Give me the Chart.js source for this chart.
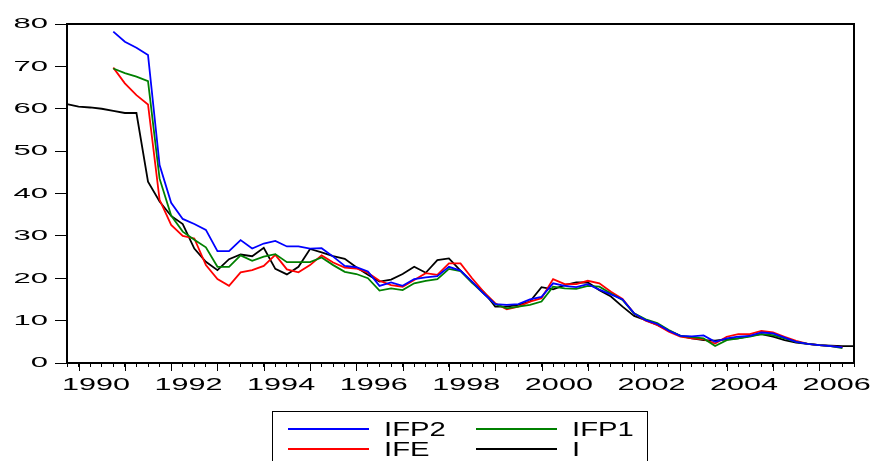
<!DOCTYPE html>
<html>
<head>
<meta charset="utf-8">
<title>IFP2 IFP1 IFE I</title>
<script src="https://cdn.jsdelivr.net/npm/chart.js@4.4.1/dist/chart.umd.min.js"></script>
<style>
  html, body { margin: 0; padding: 0; background: #fff; overflow: hidden; }
  #wrap { position: relative; width: 875px; height: 461px; }
  #legend { position: absolute; left: 272px; top: 411px; width: 376px; height: 70px;
            border: 1px solid #000; box-sizing: border-box;
            font-family: "Liberation Sans", Arial, sans-serif; font-size: 19.5px; color: #000; }
  .item { position: absolute; height: 20px; width: 170px; }
  .swatch { position: absolute; left: 0; top: 9px; width: 81px; height: 2px; }
  .lbl { position: absolute; left: 96px; top: 0; line-height: 20px; white-space: nowrap;
         transform: scaleX(1.5); transform-origin: left center; }
</style>
</head>
<body>
<div id="wrap">
  <canvas id="canvas" width="875" height="461"></canvas>
  <div id="legend"></div>
</div>
<script>
// quarterly observations 1989Q4 .. 2006Q4
var firstYear = 1989, firstQuarter = 4, lastYear = 2006;
var yearTicks = ['1990', '1992', '1994', '1996', '1998', '2000', '2002', '2004', '2006'];

var quarters = [];
for (var y = firstYear; y <= lastYear; y++) {
  for (var q = 1; q <= 4; q++) {
    if (y === firstYear && q < firstQuarter) continue;
    quarters.push(y + 'Q' + q);
  }
}

var ifp2 = [null, null, null, null,
  78.2, 75.8, 74.4, 72.7, 46.7, 37.8, 34.0, 32.8, 31.4, 26.4, 26.4, 29.0, 27.0, 28.2, 28.8, 27.5,
  27.5, 27.0, 27.1, 25.1, 22.9, 22.6, 21.6, 18.2, 19.0, 18.2, 19.8, 20.2, 20.5, 22.7, 21.8, 19.2,
  16.4, 13.9, 13.7, 13.9, 15.0, 15.6, 18.8, 18.2, 17.9, 18.6, 17.3, 16.2, 15.0, 11.7, 10.1, 9.2,
  7.6, 6.4, 6.3, 6.5, 5.0, 5.8, 6.2, 6.4, 7.2, 7.0, 6.0, 5.0, 4.5, 4.2, 4.0, 3.7, null];

var ifp1 = [null, null, null, null,
  69.5, 68.4, 67.6, 66.5, 43.5, 34.8, 31.0, 29.1, 27.3, 22.7, 22.7, 25.4, 24.1, 25.1, 25.7, 23.8,
  23.8, 23.8, 24.9, 23.1, 21.5, 21.0, 20.0, 17.1, 17.6, 17.2, 18.8, 19.4, 19.8, 22.2, 21.7, 19.0,
  16.4, 13.9, 12.9, 13.3, 13.7, 14.5, 18.0, 17.6, 17.5, 18.2, 18.0, 16.4, 14.9, 11.7, 10.3, 9.4,
  7.8, 6.4, 6.1, 5.8, 4.0, 5.4, 5.8, 6.2, 6.8, 6.6, 5.8, 5.0, 4.5, 4.2, 4.0, 3.5, null];

var ife = [null, null, null, null,
  69.7, 66.0, 63.2, 61.0, 38.5, 32.6, 30.0, 29.4, 23.1, 19.8, 18.2, 21.4, 21.9, 22.9, 25.5, 22.1,
  21.4, 23.1, 25.4, 23.7, 22.5, 22.3, 21.3, 19.4, 18.4, 18.0, 19.6, 21.2, 20.8, 23.5, 23.5, 20.0,
  16.8, 14.1, 12.7, 13.3, 14.5, 15.3, 19.8, 18.6, 18.6, 19.4, 18.8, 16.8, 15.1, 11.7, 10.0, 9.0,
  7.4, 6.2, 5.8, 5.6, 4.6, 6.2, 6.8, 6.8, 7.6, 7.2, 6.2, 5.2, 4.5, 4.2, 4.0, 3.7, null];

var iRate = [61.1, 60.5, 60.3, 60.0,
  59.5, 59.0, 59.0, 42.8, 38.1, 34.7, 32.8, 27.0, 23.9, 21.9, 24.5, 25.6, 25.2, 27.2, 22.2, 20.9,
  22.7, 26.9, 26.1, 25.2, 24.6, 22.6, 20.8, 19.2, 19.7, 21.0, 22.7, 21.3, 24.3, 24.7, 21.8, 19.0,
  16.8, 13.3, 13.3, 13.7, 14.5, 17.9, 17.4, 18.4, 19.0, 19.0, 17.2, 15.7, 13.3, 11.1, 10.1, 9.0,
  7.6, 6.4, 5.8, 5.4, 5.3, 5.6, 5.8, 6.4, 6.8, 6.2, 5.4, 4.8, 4.5, 4.2, 4.1, 4.0, 4.0];

var seriesNames = ['IFP2', 'IFP1', 'IFE', 'I'];
var seriesColors = ['#0000ff', '#008000', '#ff0000', '#000000'];
var seriesData = [ifp2, ifp1, ife, iRate];

function $id(id) { return document.getElementById(id); }

// legend as html, two columns like the original
function buildLegend() {
  var pos = [[15, 7], [203, 7], [15, 27], [203, 27]];
  var html = '';
  for (var i = 0; i < seriesNames.length; i++) {
    html += '<div class="item" style="left:' + pos[i][0] + 'px;top:' + pos[i][1] + 'px">' +
      '<div class="swatch" style="background-color:' + seriesColors[i] + '"></div>' +
      '<span class="lbl">' + seriesNames[i] + '</span></div>';
  }
  $id('legend').innerHTML = html;
}

// the original uses a wide, flat font; stretch canvas text around its anchor
var wideText = {
  id: 'wideText',
  beforeDraw: function (chart) {
    var ctx = chart.ctx;
    if (ctx._wide) return;
    var fill = ctx.fillText.bind(ctx);
    ctx.fillText = function (text, x, y) {
      var sx = ctx.textAlign === 'right' ? 2.0 : 1.8;
      ctx.save();
      ctx.translate(x, y);
      ctx.scale(sx, 1);
      fill(text, 0, 0);
      ctx.restore();
    };
    ctx._wide = true;
  },
  afterDraw: function (chart) {
    var ctx = chart.ctx, a = chart.chartArea, xs = chart.scales.x;
    ctx.save();
    ctx.strokeStyle = '#000';
    ctx.lineWidth = 2;
    ctx.strokeRect(a.left, a.top, a.right - a.left, a.bottom - a.top);
    // longer tick at the first quarter of every year
    ctx.lineWidth = 1;
    for (var i = 0; i < quarters.length; i++) {
      if (quarters[i].slice(4) !== 'Q1') continue;
      var x = Math.round(xs.getPixelForValue(i)) + 0.5;
      ctx.beginPath();
      ctx.moveTo(x, a.bottom);
      ctx.lineTo(x, a.bottom + 8);
      ctx.stroke();
    }
    ctx.restore();
  }
};

function makeChart() {
  var datasets = [];
  for (var i = 0; i < seriesNames.length; i++) {
    datasets.push({
      label: seriesNames[i],
      data: seriesData[i],
      borderColor: seriesColors[i],
      backgroundColor: seriesColors[i],
      borderWidth: 1.8,
      pointRadius: 0,
      tension: 0,
      fill: false,
      spanGaps: false
    });
  }
  var ctx = $id('canvas');
  return new Chart(ctx, {
    type: 'line',
    data: { labels: quarters, datasets: datasets },
    options: {
      responsive: false,
      animation: false,
      layout: { padding: { left: 0, top: 24, right: 21, bottom: 63 } },
      plugins: { legend: { display: false }, tooltip: { enabled: false } },
      scales: {
        x: {
          type: 'category',
          offset: false,
          border: { display: false },
          grid: { drawOnChartArea: false, tickLength: 4, tickColor: '#000', tickWidth: 1 },
          ticks: {
            autoSkip: false, maxRotation: 0, minRotation: 0,
            padding: 8, labelOffset: 5.8, color: '#000',
            font: { family: '"Liberation Sans", Arial, sans-serif', size: 17 },
            callback: function (value, index) {
              var lab = quarters[index];
              var yr = lab.slice(0, 4);
              return (lab.slice(4) === 'Q2' && yearTicks.indexOf(yr) >= 0) ? yr : '';
            }
          },
          afterFit: function (scale) { scale.height = 35; }
        },
        y: {
          min: 0, max: 80,
          border: { display: false },
          grid: { drawOnChartArea: false, tickLength: 12, tickColor: '#000', tickWidth: 1 },
          ticks: {
            stepSize: 10, padding: 7, color: '#000',
            font: { family: '"Liberation Sans", Arial, sans-serif', size: 15.5 }
          },
          afterFit: function (scale) { scale.width = 67; }
        }
      }
    },
    plugins: [wideText]
  });
}

buildLegend();
makeChart();
</script>
</body>
</html>
